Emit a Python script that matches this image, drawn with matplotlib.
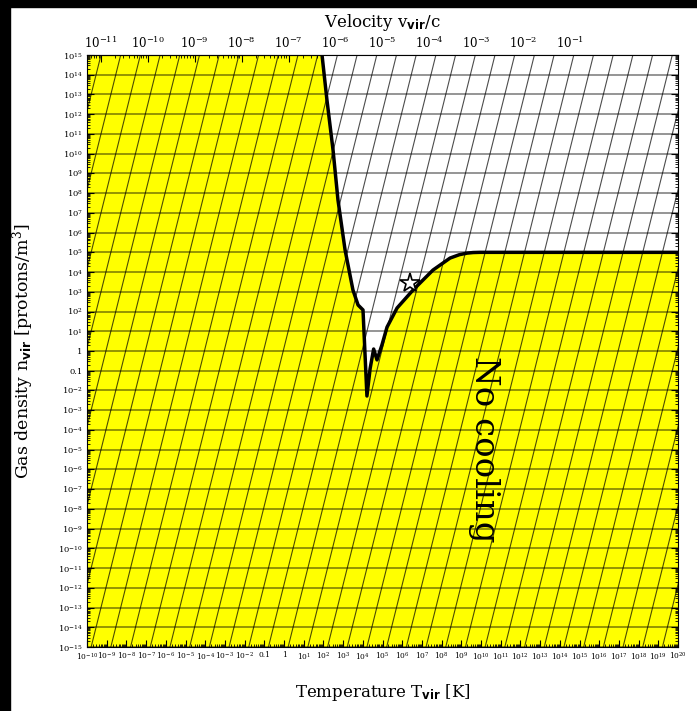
import numpy as np
import matplotlib
matplotlib.use("Agg")
import matplotlib.pyplot as plt
from matplotlib.patches import Rectangle
from matplotlib.ticker import FixedLocator, LogLocator, NullFormatter

plt.rcParams['font.family'] = 'DejaVu Serif'
plt.rcParams['mathtext.fontset'] = 'custom'
plt.rcParams['mathtext.rm'] = 'DejaVu Serif'
plt.rcParams['mathtext.it'] = 'DejaVu Serif:italic'
plt.rcParams['mathtext.bf'] = 'DejaVu Sans:bold'

# cooling boundary: log10 T [K], log10 n [protons/m^3]
curve_logT = [1.93, 2.18, 2.49, 2.74, 3.10, 3.50, 3.76, 4.01, 4.21, 4.37, 4.55,
              4.72, 4.97, 5.23, 5.74, 6.55, 7.56, 8.43, 8.90, 9.29, 9.60, 9.95, 20.0]
curve_logn = [15.0, 12.72, 10.18, 7.65, 5.12, 3.09, 2.33, 2.08, -2.28, -0.90, 0.10,
              -0.45, 0.30, 1.21, 2.18, 3.09, 4.10, 4.71, 4.88, 4.96, 4.99, 5.0, 5.0]

# the star
star_logT = 6.40
star_logn = 3.44

# axes ranges (decades)
t_decades = list(range(-10, 21))
n_decades = list(range(-15, 16))
v_decades = list(range(-11, 0))

# top axis mapping  log v = (log T - a) / b
v_a = 16.89
v_b = 2.38

# slanted guide lines: log n = slope * (log T - offset - k)
diag_slope = 4.0
diag_offset = -0.04


def dec_label(e):
    if e == 0:
        return '1'
    if e == -1:
        return '0.1'
    return r'$10^{%d}$' % e


fig = plt.figure(figsize=(6.97, 7.11), dpi=100)
fig.patches.append(Rectangle((0, 0), 10 / 697, 1, transform=fig.transFigure,
                             color='black', zorder=10))
fig.patches.append(Rectangle((0, 1 - 7 / 711), 1, 7 / 711, transform=fig.transFigure,
                             color='black', zorder=10))

ax = fig.add_axes([87 / 697, 1 - 647 / 711, 591 / 697, 592 / 711])
ax.set_facecolor('#ffff00')
ax.set_xscale('log')
ax.set_yscale('log')
ax.set_xlim(1e-10, 1e20)
ax.set_ylim(1e-15, 1e15)

T = 10.0 ** np.array(curve_logT)
n = 10.0 ** np.array(curve_logn)

ax.fill_between(T, n, 1e15, color='white', zorder=1, lw=0)

# horizontal grid at every decade
for e in n_decades:
    ax.axhline(10.0 ** e, color='black', alpha=0.45, lw=1.3, zorder=2)

# slanted lines
ln = np.array([-16.0, 16.0])
for k in range(-20, 30):
    lt = ln / diag_slope + k + diag_offset
    ax.plot(10.0 ** lt, 10.0 ** ln, color='black', alpha=0.7, lw=0.8, zorder=2)

ax.plot(T, n, color='black', lw=2.5, zorder=3)
ax.plot([10 ** star_logT], [10 ** star_logn], marker='*', ms=15, mfc='white',
        mec='black', mew=1.2, zorder=4)

ax.text(10 ** 10.15, 10 ** -5.0, 'No cooling', rotation=-90, fontsize=24.5,
        ha='center', va='center', zorder=5)

ax.xaxis.set_major_locator(FixedLocator([10.0 ** e for e in t_decades]))
ax.set_xticklabels([dec_label(e) for e in t_decades], fontsize=5.4)
ax.yaxis.set_major_locator(FixedLocator([10.0 ** e for e in n_decades]))
ax.set_yticklabels([dec_label(e) for e in n_decades], fontsize=6)
ax.xaxis.set_minor_locator(LogLocator(base=10, subs=np.arange(2, 10), numticks=100))
ax.yaxis.set_minor_locator(LogLocator(base=10, subs=np.arange(2, 10), numticks=100))
ax.xaxis.set_minor_formatter(NullFormatter())
ax.yaxis.set_minor_formatter(NullFormatter())
ax.tick_params(which='both', direction='in', top=False, right=True, pad=3)
ax.tick_params(which='major', length=5, width=0.8)
ax.tick_params(which='minor', length=2.5, width=0.6)

ax.set_xlabel(r'Temperature T$_{\mathbf{vir}}$ [K]', fontsize=12, labelpad=14)
ax.set_ylabel(r'Gas density n$_{\mathbf{vir}}$ [protons/m$^3$]', fontsize=12.5,
              labelpad=16)


def fwd(t):
    t = np.clip(t, 1e-300, None)
    return 10.0 ** ((np.log10(t) - v_a) / v_b)


def inv(v):
    v = np.clip(v, 1e-300, None)
    return 10.0 ** (np.log10(v) * v_b + v_a)


sec = ax.secondary_xaxis('top', functions=(fwd, inv))
sec.xaxis.set_major_locator(FixedLocator([10.0 ** e for e in v_decades]))
sec.set_xticklabels([r'$10^{%d}$' % e for e in v_decades], fontsize=8.5)
sec.xaxis.set_minor_locator(LogLocator(base=10, subs=np.arange(2, 10), numticks=100))
sec.xaxis.set_minor_formatter(NullFormatter())
sec.tick_params(which='both', direction='in', pad=3)
sec.tick_params(which='major', length=5, width=0.8)
sec.tick_params(which='minor', length=2.5, width=0.6)
sec.set_xlabel(r'Velocity v$_{\mathbf{vir}}$/c', fontsize=12, labelpad=6)

fig.savefig('out.png', dpi=100)
